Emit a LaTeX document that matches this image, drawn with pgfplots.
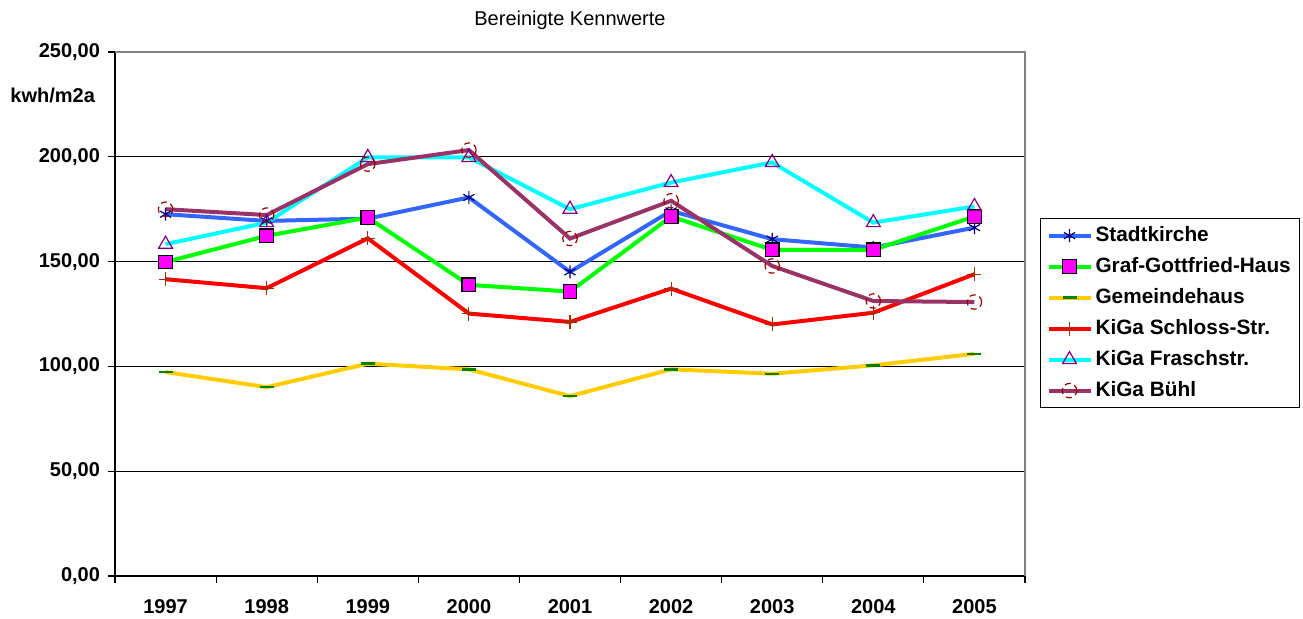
\documentclass[border=0pt]{standalone}
\usepackage{fontspec}
\setmainfont{Liberation Sans}
\usepackage{pgfplots}
\pgfplotsset{compat=1.18}
\definecolor{cStadt}{RGB}{51,102,255}
\definecolor{mStadt}{RGB}{0,0,128}
\definecolor{cGraf}{RGB}{0,255,0}
\definecolor{mGraf}{RGB}{255,0,255}
\definecolor{cGem}{RGB}{255,204,0}
\definecolor{mGem}{RGB}{0,128,0}
\definecolor{cSchl}{RGB}{255,0,0}
\definecolor{mSchl}{RGB}{153,51,0}
\definecolor{cFra}{RGB}{0,255,255}
\definecolor{mFra}{RGB}{128,0,128}
\definecolor{cBuehl}{RGB}{153,51,102}
\definecolor{mBuehl}{RGB}{153,0,0}
\definecolor{frameGray}{RGB}{128,128,128}
\begin{document}
\begin{tikzpicture}
\useasboundingbox (0,0) rectangle (651.5pt,309.5pt);
\begin{axis}[
  at={(57.5pt,21.5pt)}, anchor=south west,
  scale only axis, width=455pt, height=262pt,
  clip=false,
  xmin=0.5, xmax=9.5, ymin=0, ymax=250,
  axis x line*=bottom, axis y line*=left,
  axis line style={black, line width=1pt},
  xtick={0.5,1.5,2.5,3.5,4.5,5.5,6.5,7.5,8.5,9.5},
  xticklabels={},
  extra x ticks={1,2,3,4,5,6,7,8,9},
  extra x tick labels={1997,1998,1999,2000,2001,2002,2003,2004,2005},
  extra x tick style={major tick length=0pt, tick style={draw=none}},
  ytick={0,50,...,250},
  ymajorgrids, major grid style={black, line width=0.5pt},
  tick align=outside, major tick length=3.5pt,
  tick style={black, line width=0.6pt},
  tick label style={font=\bfseries\fontsize{10}{12}\selectfont},
  x tick label style={yshift=-8pt},
  y tick label style={xshift=-0.5pt},
  yticklabel style={/pgf/number format/.cd, fixed, fixed zerofill, precision=2, use comma, 1000 sep={}, assume math mode=true},
  title={Bereinigte Kennwerte},
  title style={font=\fontsize{10}{12}\selectfont, at={(rel axis cs:0.5,1)}, anchor=base, yshift=7pt},
  legend cell align=left,
  legend style={at={(rel axis cs:1.0165,0.683)}, anchor=north west, draw=black, line width=0.5pt,
    font=\bfseries\fontsize{10.4}{12}\selectfont, row sep=2.5pt, inner xsep=3pt, inner ysep=2pt,
    nodes={inner sep=1.5pt, text height=8pt, text depth=2pt}},
  legend image code/.code={\draw[mark repeat=2,mark phase=2] plot coordinates {(0pt,0pt) (10.5pt,0pt) (21pt,0pt)};},
  every axis plot/.append style={line width=2pt},
]
\addplot[cStadt, mark=asterisk, mark size=3.2pt, mark options={mStadt, line width=0.6pt}] coordinates {
(1,172.6) (2,169.4) (3,170.5) (4,180.6) (5,145.1) (6,174.2) (7,160.7) (8,156.7) (9,166.2)};
\addlegendentry{Stadtkirche}
\addplot[cGraf, mark=square*, mark size=3.4pt, mark options={fill=mGraf, draw=black, line width=0.6pt}] coordinates {
(1,149.8) (2,162.3) (3,171.0) (4,138.9) (5,135.7) (6,171.5) (7,155.6) (8,155.6) (9,171.5)};
\addlegendentry{Graf-Gottfried-Haus}
\addplot[cGem, mark=-, mark size=3.5pt, mark options={mGem, line width=1.2pt}] coordinates {
(1,97.3) (2,90.1) (3,101.3) (4,98.6) (5,85.8) (6,98.6) (7,96.5) (8,100.5) (9,106.0)};
\addlegendentry{Gemeindehaus}
\addplot[cSchl, mark=+, mark size=3.5pt, mark options={mSchl, line width=0.6pt}] coordinates {
(1,141.6) (2,137.3) (3,161.1) (4,125.2) (5,121.2) (6,137.1) (7,120.0) (8,125.6) (9,144.0)};
\addlegendentry{KiGa Schloss-Str.}
\addplot[cFra, mark=triangle, mark size=4pt, mark options={mFra, line width=0.6pt}] coordinates {
(1,158.3) (2,168.6) (3,199.7) (4,199.7) (5,175.0) (6,187.7) (7,197.3) (8,168.6) (9,176.3)};
\addlegendentry{KiGa Fraschstr.}
\addplot[cBuehl, mark=o, mark size=3.6pt, mark options={mBuehl, line width=0.6pt, densely dashed}] coordinates {
(1,175.0) (2,172.2) (3,196.5) (4,203.2) (5,161.0) (6,179.0) (7,147.9) (8,131.2) (9,130.7)};
\addlegendentry{KiGa Bühl}
\draw[frameGray, line width=1pt] (rel axis cs:0,1) -- (rel axis cs:1,1) -- (rel axis cs:1,0);
\node[anchor=east, font=\bfseries\fontsize{10}{12}\selectfont] at (rel axis cs:-0.0143,0.918) {kwh/m2a};
\end{axis}
\end{tikzpicture}
\end{document}
